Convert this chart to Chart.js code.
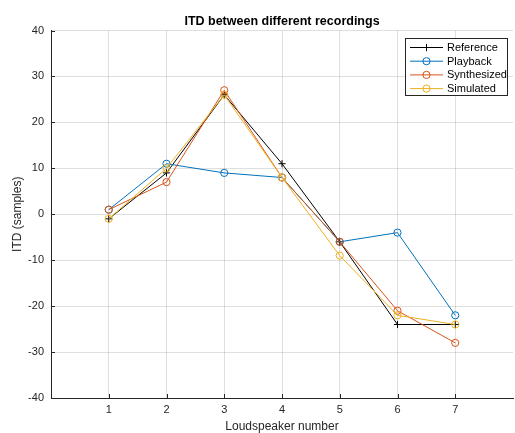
<!DOCTYPE html>
<html><head><meta charset="utf-8">
<script src="https://cdn.jsdelivr.net/npm/chart.js@4"></script>
<style>html,body{margin:0;padding:0;overflow:hidden;background:#fff;width:515px;height:433px}canvas{display:block}</style>
</head><body>
<canvas id="c" width="518" height="433"></canvas>
<script>
const speakers = [1, 2, 3, 4, 5, 6, 7];
const reference = [-1, 9, 26, 11, -6, -24, -24];
const playback = [1, 11, 9, 8, -6, -4, -22];
const synthesized = [1, 7, 27, 8, -6, -21, -28];
const simulated = [-1, 10, 26, 8, -9, -22, -24];
const yTicks = [-40, -30, -20, -10, 0, 10, 20, 30, 40];
const seriesNames = ['Reference', 'Playback', 'Synthesized', 'Simulated'];
const seriesColors = ['#000000', '#0072BD', '#D95319', '#EDB120'];
const seriesMarkers = ['cross', 'circle', 'circle', 'circle'];

const FONT = '"Liberation Sans", Arial, Helvetica, sans-serif';
const AX = '#262626';
const toXY = arr => speakers.map((s, i) => ({x: s, y: arr[i]}));
const allSeries = [reference, playback, synthesized, simulated];

const datasets = allSeries.map((arr, i) => ({
  label: seriesNames[i],
  data: toXY(arr),
  borderColor: seriesColors[i],
  backgroundColor: 'transparent',
  pointBorderColor: seriesColors[i],
  pointBackgroundColor: 'transparent',
  pointStyle: seriesMarkers[i],
  pointRadius: 3.6,
  pointBorderWidth: 1,
  borderWidth: 1,
  tension: 0,
  fill: false,
  order: 4 - i
}));

const innerTicks = {
  id: 'innerTicks',
  afterDraw(chart) {
    const ctx = chart.ctx, xs = chart.scales.x, ys = chart.scales.y, a = chart.chartArea;
    ctx.save();
    ctx.strokeStyle = AX; ctx.lineWidth = 1;
    ctx.beginPath();
    xs.ticks.forEach(t => { const px = Math.round(xs.getPixelForValue(t.value)) + 0.5; ctx.moveTo(px, a.bottom); ctx.lineTo(px, a.bottom - 4); });
    ys.ticks.forEach(t => { const py = Math.round(ys.getPixelForValue(t.value)) + 0.5; ctx.moveTo(a.left, py); ctx.lineTo(a.left + 4, py); });
    ctx.stroke();
    ctx.restore();
  }
};

const boxLegend = {
  id: 'boxLegend',
  afterDraw(chart) {
    const ctx = chart.ctx;
    const bx = 405.5, by = 38.5, bw = 102, bh = 57;
    ctx.save();
    ctx.fillStyle = '#fff';
    ctx.fillRect(bx, by, bw, bh);
    ctx.strokeStyle = AX; ctx.lineWidth = 1;
    ctx.strokeRect(bx, by, bw, bh);
    chart.data.datasets.forEach((ds, i) => {
      const y = 47.5 + i * 13.7;
      ctx.strokeStyle = ds.borderColor; ctx.lineWidth = 1;
      ctx.beginPath(); ctx.moveTo(410, y); ctx.lineTo(443, y); ctx.stroke();
      const cx = 426.5;
      ctx.beginPath();
      if (ds.pointStyle === 'cross') {
        ctx.moveTo(cx - 3.6, y); ctx.lineTo(cx + 3.6, y);
        ctx.moveTo(cx, y - 3.6); ctx.lineTo(cx, y + 3.6);
      } else {
        ctx.arc(cx, y, 3.6, 0, Math.PI * 2);
      }
      ctx.stroke();
      ctx.fillStyle = '#000';
      ctx.font = '11px ' + FONT;
      ctx.textBaseline = 'middle';
      ctx.textAlign = 'left';
      ctx.fillText(ds.label, 447, y + 0.5);
    });
    ctx.restore();
  }
};

new Chart(document.getElementById('c'), {
  type: 'line',
  data: { datasets },
  options: {
    responsive: false,
    animation: false,
    devicePixelRatio: 1,
    layout: { padding: 0 },
    plugins: {
      legend: { display: false },
      tooltip: { enabled: false },
      title: {
        display: true,
        text: 'ITD between different recordings',
        fullSize: false,
        color: '#000',
        font: { family: FONT, size: 12.5, weight: 'bold', lineHeight: 1.2 },
        padding: { top: 14, bottom: 1.5 }
      }
    },
    scales: {
      x: {
        type: 'linear',
        min: 0, max: 8,
        afterBuildTicks: s => { s.ticks = speakers.map(v => ({ value: v })); },
        afterFit: s => { s.height = 35; },
        grid: { color: 'rgba(38,38,38,0.15)', drawTicks: false, lineWidth: 1 },
        border: { display: true, color: AX, width: 1 },
        ticks: { color: AX, font: { family: FONT, size: 11 }, padding: 5, maxRotation: 0 },
        title: { display: true, text: 'Loudspeaker number', color: AX, font: { family: FONT, size: 12, lineHeight: 1 }, padding: { top: -1, bottom: 0 } }
      },
      y: {
        type: 'linear',
        min: -40, max: 40,
        afterBuildTicks: s => { s.ticks = yTicks.map(v => ({ value: v })); },
        afterFit: s => { s.width = 51; },
        grid: { color: 'rgba(38,38,38,0.15)', drawTicks: false, lineWidth: 1 },
        border: { display: true, color: AX, width: 1 },
        ticks: { color: AX, font: { family: FONT, size: 11 }, padding: 7 },
        title: { display: true, text: 'ITD (samples)', color: AX, font: { family: FONT, size: 12, lineHeight: 1 }, padding: { top: 12, bottom: 0 } }
      }
    }
  },
  plugins: [innerTicks, boxLegend]
});
</script>
</body></html>
